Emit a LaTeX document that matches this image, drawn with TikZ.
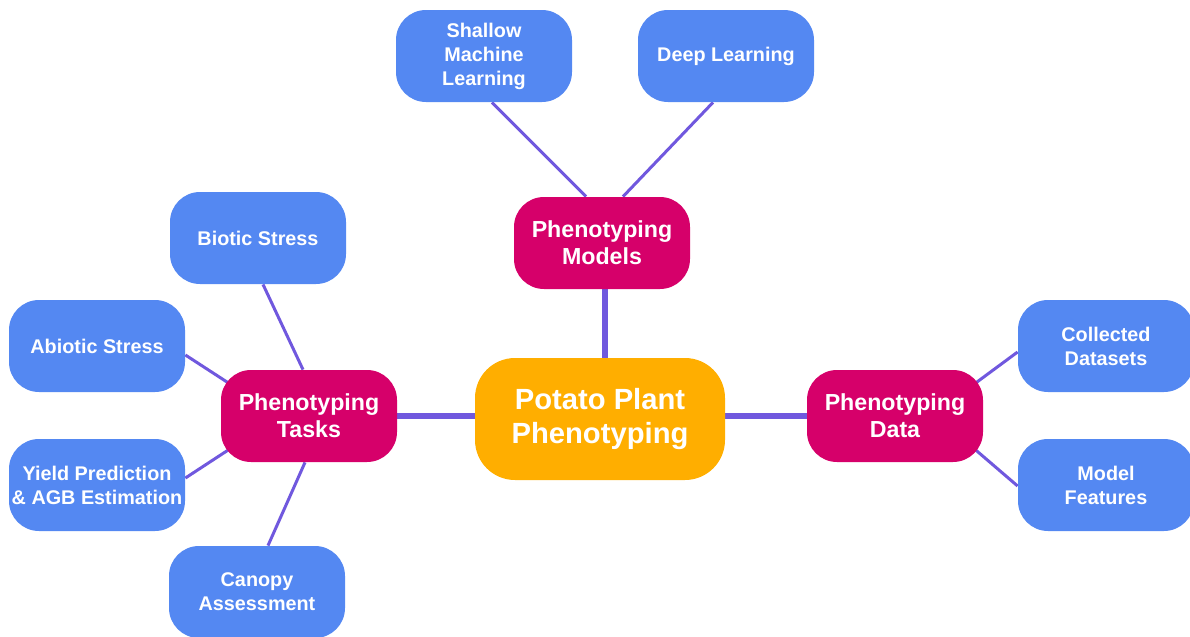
\documentclass[tikz,border=0pt]{standalone}
\usepackage{fontspec}
\setmainfont{Liberation Sans}
\usetikzlibrary{backgrounds}

\definecolor{leafblue}{RGB}{84,136,242}
\definecolor{branchpink}{RGB}{214,0,106}
\definecolor{rootorange}{RGB}{255,174,0}
\definecolor{linkpurple}{RGB}{112,88,222}

\begin{document}
\begin{tikzpicture}[x=0.5pt, y=-0.5pt,
    box/.style={rounded corners=15pt, text=white, align=center, inner sep=0pt,
                font=\bfseries},
    leaf/.style={box, fill=leafblue, minimum width=88pt, minimum height=46pt,
                 font=\bfseries\fontsize{9.9}{12}\selectfont},
    branch/.style={box, fill=branchpink, minimum width=88pt, minimum height=46pt,
                   font=\bfseries\fontsize{11.6}{13.5}\selectfont},
    hub/.style={box, fill=rootorange, minimum width=125pt, minimum height=61pt,
                rounded corners=20pt, font=\bfseries\fontsize{14.6}{17}\selectfont},
    link/.style={linkpurple, line width=1.5pt},
    trunk/.style={linkpurple, line width=3pt}]
  \useasboundingbox (0,0) rectangle (1190,637);

  % Centre of the map
  \node[hub] (root) at (600,419) {Potato Plant\\Phenotyping};

  % Three branches
  \node[branch] (models) at (602,243) {Phenotyping\\Models};
  \node[branch] (tasks)  at (309,416) {Phenotyping\\Tasks};
  \node[branch] (data)   at (895,416) {Phenotyping\\Data};

  % Leaves of the models branch
  \node[leaf] (shallow) at (484,56) {Shallow\\Machine\\Learning};
  \node[leaf] (deep)    at (726,56) {Deep Learning};

  % Leaves of the tasks branch
  \node[leaf] (biotic)  at (258,238) {Biotic Stress};
  \node[leaf] (abiotic) at (97,346)  {Abiotic Stress};
  \node[leaf] (yield)   at (97,485)  {Yield Prediction\\\& AGB Estimation};
  \node[leaf] (canopy)  at (257,592) {Canopy\\Assessment};

  % Leaves of the data branch
  \node[leaf] (collected) at (1106,346) {Collected\\Datasets};
  \node[leaf] (features)  at (1106,485) {Model\\Features};

  % Connectors sit behind the boxes
  \begin{pgfonlayer}{background}
    \draw[trunk] ([xshift=1.5pt]models.south) -- ([xshift=2.5pt]root.north);
    \draw[trunk] (tasks.east) -- (tasks.east -| root.west);
    \draw[trunk] (data.west -| root.east) -- (data.west);

    \draw[link] ([xshift=-8pt]models.north) -- ([xshift=4pt]shallow.south);
    \draw[link] ([xshift=10.5pt]models.north) -- ([xshift=-6.5pt]deep.south);

    \draw[link] ([xshift=-3pt]tasks.north) -- ([xshift=2.5pt]biotic.south);
    \draw[link] ([xshift=7.5pt,yshift=-9pt]tasks.north west) -- ([yshift=-4.5pt]abiotic.east);
    \draw[link] ([xshift=7.5pt,yshift=8.6pt]tasks.south west) -- ([yshift=3.5pt]yield.east);
    \draw[link] ([xshift=-2pt]tasks.south) -- ([xshift=5.5pt]canopy.north);

    \draw[link] ([xshift=-7pt,yshift=-9pt]data.north east) -- ([yshift=-3pt]collected.west);
    \draw[link] ([xshift=-7pt,yshift=8.9pt]data.south east) -- ([yshift=-0.5pt]features.west);
  \end{pgfonlayer}
\end{tikzpicture}
\end{document}
